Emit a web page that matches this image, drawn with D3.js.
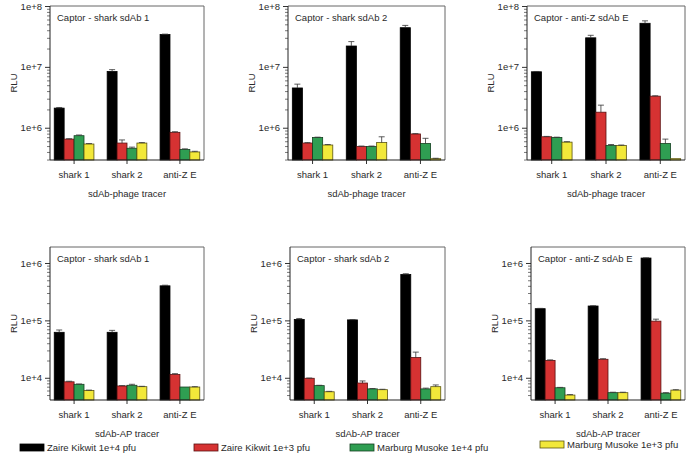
<!DOCTYPE html>
<html>
<head>
<meta charset="utf-8">
<script src="https://cdn.jsdelivr.net/npm/d3@7"></script>
<style>
  html, body { margin: 0; padding: 0; background: #fff; }
  svg { display: block; }
  text { font-family: "Liberation Sans", Arial, sans-serif; fill: #2a2a2a; }
</style>
</head>
<body>
<svg id="chart" width="689" height="469"></svg>
<script>
// ---------------- DATA ----------------
const categories = ["shark 1", "shark 2", "anti-Z E"];
const seriesNames = ["Zaire Kikwit 1e+4 pfu", "Zaire Kikwit 1e+3 pfu", "Marburg Musoke 1e+4 pfu", "Marburg Musoke 1e+3 pfu"];
const seriesColors = ["#000000", "#d63232", "#2f9e52", "#f2e83a"];
const seriesStrokes = ["#000000", "#5a1010", "#123f1f", "#5a5410"];

const panelTitles = ["Captor - shark sdAb 1", "Captor - shark sdAb 2", "Captor - anti-Z sdAb E",
                     "Captor - shark sdAb 1", "Captor - shark sdAb 2", "Captor - anti-Z sdAb E"];
const xTitles = ["sdAb-phage tracer", "sdAb-AP tracer"];
const topTicks = [1e6, 1e7, 1e8];
const bottomTicks = [1e4, 1e5, 1e6];

// values[category][series]
const phageShark1 = [[2.1e6, 6.5e5, 7.4e5, 5.4e5], [8.4e6, 5.6e5, 4.6e5, 5.6e5], [3.4e7, 8.4e5, 4.4e5, 4.0e5]];
const phageShark1Up = [[2.15e6, 6.6e5, 7.6e5, 5.5e5], [9.0e6, 6.3e5, 4.8e5, 5.7e5], [3.45e7, 8.6e5, 4.5e5, 4.1e5]];
const phageShark2 = [[4.5e6, 5.6e5, 6.9e5, 5.2e5], [2.2e7, 4.9e5, 4.9e5, 5.7e5], [4.4e7, 7.9e5, 5.5e5, 3.1e5]];
const phageShark2Up = [[5.2e6, 5.7e5, 7.0e5, 5.3e5], [2.6e7, 5.0e5, 5.0e5, 7.1e5], [4.8e7, 8.0e5, 6.7e5, 3.15e5]];
const phageAntiZ = [[8.3e6, 7.1e5, 6.9e5, 5.8e5], [3.0e7, 1.8e6, 5.1e5, 5.1e5], [5.2e7, 3.3e6, 5.5e5, 3.1e5]];
const phageAntiZUp = [[8.4e6, 7.2e5, 7.0e5, 5.9e5], [3.3e7, 2.35e6, 5.3e5, 5.2e5], [5.7e7, 3.35e6, 6.5e5, 3.1e5]];
const apShark1 = [[6.2e4, 8.5e3, 7.7e3, 6.0e3], [6.2e4, 7.2e3, 7.4e3, 7.0e3], [4.0e5, 1.14e4, 6.9e3, 6.9e3]];
const apShark1Up = [[6.8e4, 8.7e3, 7.8e3, 6.1e3], [6.7e4, 7.3e3, 7.7e3, 7.1e3], [4.1e5, 1.18e4, 6.9e3, 7.0e3]];
const apShark2 = [[1.04e5, 9.8e3, 7.3e3, 5.7e3], [1.02e5, 8.1e3, 6.4e3, 6.2e3], [6.3e5, 2.25e4, 6.4e3, 7.0e3]];
const apShark2Up = [[1.08e5, 9.9e3, 7.4e3, 5.8e3], [1.03e5, 8.8e3, 6.5e3, 6.3e3], [6.5e5, 2.8e4, 6.6e3, 7.5e3]];
const apAntiZ = [[1.6e5, 2.0e4, 6.7e3, 5.0e3], [1.78e5, 2.1e4, 5.5e3, 5.5e3], [1.22e6, 9.7e4, 5.4e3, 6.1e3]];
const apAntiZUp = [[1.62e5, 2.05e4, 6.8e3, 5.1e3], [1.8e5, 2.15e4, 5.6e3, 5.6e3], [1.23e6, 1.05e5, 5.5e3, 6.2e3]];

// ---------------- LAYOUT ----------------
const panels = [
  {vals: phageShark1, up: phageShark1Up, x0: 50, x1: 204, y0: 6, y1: 160, dom: [2.95e5, 1e8], ticks: topTicks, row: 0},
  {vals: phageShark2, up: phageShark2Up, x0: 288, x1: 445, y0: 6, y1: 160, dom: [2.95e5, 1e8], ticks: topTicks, row: 0},
  {vals: phageAntiZ, up: phageAntiZUp, x0: 527, x1: 685, y0: 6, y1: 160, dom: [2.95e5, 1e8], ticks: topTicks, row: 0},
  {vals: apShark1, up: apShark1Up, x0: 50, x1: 204, y0: 247, y1: 400, dom: [4100, 1.9e6], ticks: bottomTicks, row: 1},
  {vals: apShark2, up: apShark2Up, x0: 290, x1: 445, y0: 247, y1: 400, dom: [4100, 1.9e6], ticks: bottomTicks, row: 1},
  {vals: apAntiZ, up: apAntiZUp, x0: 531, x1: 685, y0: 247, y1: 400, dom: [4100, 1.9e6], ticks: bottomTicks, row: 1}
];

const svg = d3.select("#chart");
svg.append("rect").attr("width", 689).attr("height", 469).attr("fill", "#fff");
const FS = "9.5px";

panels.forEach((p, i) => {
  const g = svg.append("g");
  const x = d3.scaleBand().domain(categories).range([p.x0, p.x1]).paddingInner(0.25).paddingOuter(0.08);
  const xs = d3.scaleBand().domain(d3.range(4)).range([0, x.bandwidth()]);
  const y = d3.scaleLog().domain(p.dom).range([p.y1, p.y0]);

  // minor ticks
  const minors = [];
  const lo = Math.floor(Math.log10(p.dom[0])), hi = Math.ceil(Math.log10(p.dom[1]));
  for (let e = lo; e <= hi; e++) for (let m = 2; m <= 9; m++) {
    const v = m * Math.pow(10, e);
    if (v >= p.dom[0] && v <= p.dom[1]) minors.push(v);
  }
  const minorAxis = g.append("g").attr("transform", `translate(${p.x0},0)`)
    .call(d3.axisLeft(y).tickValues(minors).tickSize(3).tickFormat(""));
  minorAxis.select(".domain").remove();
  minorAxis.selectAll("line").attr("stroke", "#555").attr("stroke-width", 0.8);

  const majorAxis = g.append("g").attr("transform", `translate(${p.x0},0)`)
    .call(d3.axisLeft(y).tickValues(p.ticks).tickSize(5).tickPadding(3)
      .tickFormat(v => "1e+" + Math.round(Math.log10(v))));
  majorAxis.select(".domain").remove();
  majorAxis.selectAll("line").attr("stroke", "#333");
  majorAxis.selectAll("text").style("font-size", FS).attr("fill", "#2a2a2a").style("font-family", null);

  // bars
  p.vals.forEach((row, ci) => {
    row.forEach((v, si) => {
      const bx = x(categories[ci]) + xs(si);
      g.append("rect")
        .attr("x", bx).attr("y", y(v))
        .attr("width", xs.bandwidth()).attr("height", p.y1 - y(v))
        .attr("fill", seriesColors[si]).attr("stroke", seriesStrokes[si]).attr("stroke-width", 0.8);
      const u = p.up[ci][si];
      if (u > v) {
        const cx = bx + xs.bandwidth() / 2;
        g.append("line").attr("x1", cx).attr("x2", cx).attr("y1", y(v)).attr("y2", y(u))
          .attr("stroke", "#333").attr("stroke-width", 0.8);
        g.append("line").attr("x1", cx - 3).attr("x2", cx + 3).attr("y1", y(u)).attr("y2", y(u))
          .attr("stroke", "#333").attr("stroke-width", 0.8);
      }
    });
  });

  // x axis
  const xAxis = g.append("g").attr("transform", `translate(0,${p.y1})`)
    .call(d3.axisBottom(x).tickSize(4).tickPadding(7));
  xAxis.select(".domain").remove();
  xAxis.selectAll("line").attr("stroke", "#333");
  xAxis.selectAll("text").style("font-size", FS).attr("fill", "#2a2a2a").style("font-family", null);

  // box
  g.append("line").attr("x1", p.x0).attr("x2", p.x1).attr("y1", p.y0).attr("y2", p.y0).attr("stroke", "#666");
  g.append("line").attr("x1", p.x1).attr("x2", p.x1).attr("y1", p.y0).attr("y2", p.y1).attr("stroke", "#666");
  g.append("line").attr("x1", p.x0).attr("x2", p.x1).attr("y1", p.y1).attr("y2", p.y1).attr("stroke", "#222");
  g.append("line").attr("x1", p.x0).attr("x2", p.x0).attr("y1", p.y0).attr("y2", p.y1).attr("stroke", "#222");

  // title
  g.append("text").attr("x", p.x0 + 7).attr("y", p.y0 + 15).style("font-size", FS).text(panelTitles[i]);

  // y label
  const ly = (p.y0 + p.y1) / 2;
  const lx = p.x0 - 36;
  g.append("text").attr("transform", `translate(${lx},${ly}) rotate(-90)`)
    .attr("text-anchor", "middle").attr("dy", "0.35em").style("font-size", FS).text("RLU");

  // x title
  g.append("text").attr("x", (p.x0 + p.x1) / 2).attr("y", p.y1 + 37)
    .attr("text-anchor", "middle").style("font-size", FS).text(xTitles[p.row]);
});

// legend
const legX = [20, 194, 350, 540];
const legY = [444, 444, 444, 441];
seriesNames.forEach((name, si) => {
  svg.append("rect").attr("x", legX[si]).attr("y", legY[si]).attr("width", 24).attr("height", 7)
    .attr("fill", seriesColors[si]).attr("stroke", seriesStrokes[si]).attr("stroke-width", 0.8);
  svg.append("text").attr("x", legX[si] + 27).attr("y", legY[si] + 3.5).attr("dy", "0.35em")
    .style("font-size", FS).text(name);
});
</script>
</body>
</html>
